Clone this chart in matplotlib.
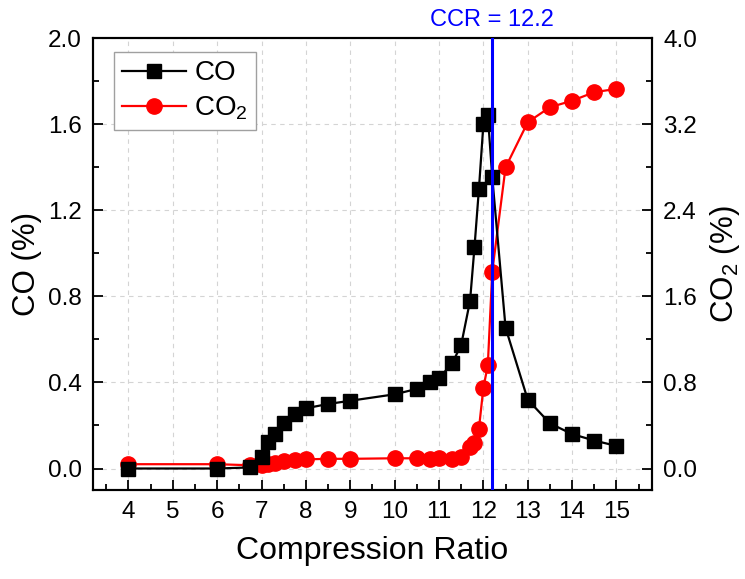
import matplotlib.pyplot as plt
import numpy as np

plt.rcParams['font.family'] = ['Liberation Sans', 'DejaVu Sans']
plt.rcParams['mathtext.fontset'] = 'custom'
plt.rcParams['mathtext.rm'] = 'Liberation Sans'
plt.rcParams['mathtext.it'] = 'Liberation Sans:italic'
plt.rcParams['mathtext.default'] = 'regular'

# compression ratio sweep
ratio = [4, 6, 6.75, 7, 7.15, 7.3, 7.5, 7.75, 8, 8.5, 9, 10, 10.5, 10.8, 11,
         11.3, 11.5, 11.7, 11.8, 11.9, 12.0, 12.1, 12.2, 12.5, 13, 13.5, 14, 14.5, 15]

# CO (%) - left axis
co = [0.0, 0.0, 0.005, 0.053, 0.123, 0.16, 0.21, 0.255, 0.28, 0.30, 0.315, 0.345,
      0.37, 0.40, 0.42, 0.49, 0.575, 0.78, 1.03, 1.30, 1.60, 1.645, 1.355, 0.655,
      0.32, 0.21, 0.16, 0.13, 0.105]

# CO2 (%) - right axis
co2 = [0.04, 0.04, 0.03, 0.03, 0.04, 0.05, 0.07, 0.08, 0.085, 0.09, 0.09, 0.095,
       0.095, 0.09, 0.10, 0.09, 0.11, 0.20, 0.24, 0.37, 0.75, 0.96, 1.83, 2.80,
       3.22, 3.36, 3.42, 3.50, 3.53]

ccr = 12.2

fig = plt.figure(figsize=(7.45, 5.79), dpi=100)
ax1 = fig.add_axes([0.1248, 0.1537, 0.7503, 0.78])
ax2 = ax1.twinx()

# red curve sits behind the black one
ax1.set_zorder(ax2.get_zorder() + 1)
ax1.patch.set_visible(False)

l2, = ax2.plot(ratio, co2, color='#ff0000', marker='o', markersize=11,
               linewidth=1.6, label='CO$_2$')
l1, = ax1.plot(ratio, co, color='black', marker='s', markersize=10,
               linewidth=1.6, label='CO')
ax1.axvline(ccr, color='#0000ff', linewidth=2.2, zorder=10)
ax1.text(ccr, 2.035, 'CCR = %.1f' % ccr, color='#0000ff', fontsize=17,
         ha='center', va='bottom')

ax1.set_xlim(3.2, 15.8)
ax1.set_ylim(-0.1, 2.0)
ax2.set_ylim(-0.2, 4.0)

ax1.set_xticks(np.arange(4, 16, 1))
ax1.set_xticks(np.arange(3.5, 16, 0.5), minor=True)
ax1.set_yticks(np.arange(0, 2.01, 0.4))
ax1.set_yticks(np.arange(0, 2.01, 0.2), minor=True)
ax2.set_yticks(np.arange(0, 4.01, 0.8))
ax2.set_yticks(np.arange(0, 4.01, 0.4), minor=True)
ax1.yaxis.set_major_formatter(plt.FormatStrFormatter('%.1f'))
ax2.yaxis.set_major_formatter(plt.FormatStrFormatter('%.1f'))

for ax in (ax1, ax2):
    ax.tick_params(which='major', direction='in', length=7, width=1.3,
                   labelsize=17.5, pad=8)
    ax.tick_params(which='minor', direction='in', length=4, width=1.3)
    for s in ax.spines.values():
        s.set_linewidth(1.5)
ax1.tick_params(top=False, right=False, which='both')
ax2.tick_params(axis='y', which='both', left=False, right=True)

# grid lives on the lower axes so it stays behind both curves
ax2.xaxis.set_visible(True)
ax2.tick_params(axis='x', which='both', bottom=False, top=False,
                labelbottom=False, labeltop=False)
ax2.grid(True, which='major', linestyle=(0, (4, 4)), color='#d4d4d4', linewidth=0.8)
ax2.set_axisbelow(True)

ax1.set_xlabel('Compression Ratio', fontsize=23, labelpad=9)
ax1.set_ylabel('CO (%)', fontsize=22.5, labelpad=4)
ax2.set_ylabel('CO$_2$ (%)', fontsize=22.5, labelpad=8)

leg = ax1.legend(handles=[l1, l2], loc='upper left', bbox_to_anchor=(0.037, 0.97),
                 borderaxespad=0, fontsize=20, handlelength=2.3, fancybox=False,
                 edgecolor='#a0a0a0', framealpha=1, handletextpad=0.3,
                 borderpad=0.3, labelspacing=0.3)
leg.get_frame().set_linewidth(1.0)

plt.savefig('out.png', dpi=100)
